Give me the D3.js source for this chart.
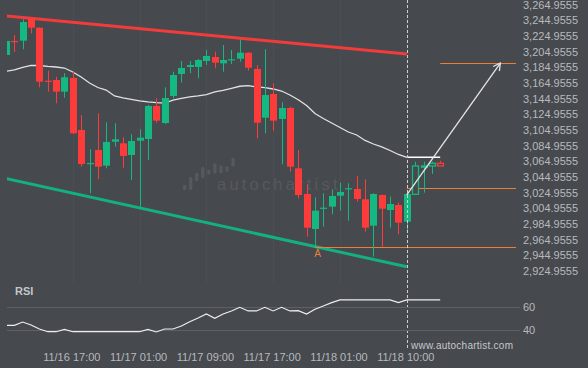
<!DOCTYPE html>
<html>
<head>
<meta charset="utf-8">
<script src="https://cdn.jsdelivr.net/npm/d3@7"></script>
<style>
    body { margin: 0; background: #46494d; }
    svg { display: block; font-family: "Liberation Sans", Arial, sans-serif; }
</style>
</head>
<body>
<svg width="588" height="368"></svg>
<script>
// hourly candles, index 0 = first visible bar; bars from 49 on are the projected (hollow) ones
const opens = [3201.1, 3219.0, 3219.3, 3248.0, 3235.9, 3168.2, 3169.1, 3154.2, 3171.7, 3105.2,
    3062.0, 3079.6, 3059.6, 3090.2, 3088.2, 3073.2, 3091.5, 3093.7, 3135.9, 3114.1,
    3148.7, 3176.8, 3185.7, 3185.7, 3193.4, 3198.5, 3190.4, 3194.7, 3196.3, 3204.0,
    3183.2, 3120.9, 3151.2, 3119.3, 3133.3, 3056.2, 3023.4, 2978.7, 3004.6, 3007.2,
    3021.2, 3029.4, 3029.8, 3016.6, 2982.9, 3022.1, 3002.9, 3009.3, 2988.0, 3023.0,
    3058.6, 3059.2, 3062.6];
const highs = [3220.2, 3226.6, 3246.7, 3248.3, 3236.5, 3181.0, 3173.3, 3177.7, 3179.7, 3124.4,
    3080.5, 3126.5, 3115.0, 3113.8, 3095.9, 3099.7, 3106.1, 3137.2, 3145.7, 3159.8,
    3179.7, 3193.4, 3193.4, 3195.9, 3207.4, 3205.3, 3213.8, 3207.4, 3221.1, 3204.6,
    3188.3, 3208.3, 3164.9, 3140.6, 3135.0, 3079.6, 3035.8, 3019.2, 3024.3, 3029.4,
    3037.8, 3037.1, 3046.8, 3042.2, 3024.3, 3022.8, 3020.0, 3012.3, 3023.9, 3064.7,
    3064.7, 3064.7, 3066.0];
const lows = [3199.8, 3204.9, 3208.3, 3228.8, 3159.8, 3154.2, 3139.3, 3146.5, 3100.1, 3058.3,
    3024.3, 3042.2, 3056.2, 3083.9, 3057.0, 3041.3, 3005.1, 3066.9, 3114.5, 3112.9,
    3145.7, 3165.6, 3177.7, 3171.3, 3188.3, 3184.1, 3179.7, 3189.6, 3192.5, 3181.0,
    3094.6, 3101.0, 3104.3, 3061.4, 3051.9, 3017.9, 2968.8, 2956.0, 2981.6, 2997.5,
    3002.1, 2989.3, 3013.6, 2975.2, 2943.3, 2956.0, 2980.3, 2971.9, 2975.2, 3023.0,
    3025.1, 3049.0, 3059.2];
const closes = [3219.0, 3218.1, 3243.2, 3235.9, 3166.9, 3167.4, 3154.2, 3172.6, 3101.0, 3061.7,
    3063.0, 3058.3, 3089.9, 3093.3, 3072.0, 3091.1, 3095.4, 3135.9, 3117.1, 3146.1,
    3175.5, 3184.4, 3188.3, 3194.7, 3199.8, 3191.2, 3194.7, 3195.6, 3204.0, 3184.8,
    3114.5, 3149.9, 3117.1, 3133.3, 3058.3, 3022.1, 2980.3, 3002.1, 3005.9, 3020.8,
    3026.0, 3030.7, 3017.0, 2980.3, 3023.4, 3004.6, 3010.6, 2986.7, 3023.4, 3059.2,
    3059.2, 3062.6, 3059.2];
const movingAvg = [3180.2, 3181.9, 3185.1, 3187.9, 3187.6, 3186.4, 3185.7, 3184.4, 3179.3, 3172.9,
    3165.3, 3159.5, 3156.3, 3148.7, 3146.1, 3144.2, 3142.3, 3141.0, 3140.1, 3139.7,
    3143.5, 3145.5, 3147.4, 3148.7, 3150.3, 3153.8, 3155.9, 3158.5, 3161.1, 3161.8,
    3160.2, 3159.3, 3157.6, 3155.0, 3149.9, 3143.9, 3136.5, 3126.3, 3119.9, 3114.1,
    3108.4, 3102.6, 3098.8, 3091.8, 3087.3, 3083.5, 3079.0, 3073.9, 3070.3, 3070.3,
    3070.3, 3070.3, 3070.3];
const rsi = [44.2, 44.2, 47.0, 44.5, 41.1, 38.8, 38.8, 40.8, 38.8, 38.8,
    38.8, 38.8, 38.8, 38.8, 38.8, 38.8, 38.8, 40.8, 38.6, 41.1,
    41.1, 43.6, 47.3, 50.4, 53.8, 50.2, 53.8, 56.4, 59.5, 56.4,
    56.4, 59.5, 56.4, 59.5, 56.4, 56.6, 53.8, 57.8, 60.6, 63.4,
    65.7, 65.7, 65.7, 65.7, 65.7, 65.7, 65.7, 63.4, 65.7, 65.7,
    65.7, 65.7, 65.7];
const firstProjected = 49;
const currentBar = 48;

const timeTickIndex = [8, 16, 24, 32, 40, 48];
const timeTickLabels = ["11/16 17:00", "11/17 01:00", "11/17 09:00", "11/17 17:00", "11/18 01:00", "11/18 10:00"];
const priceTicks = [3264.9555, 3244.9555, 3224.9555, 3204.9555, 3184.9555, 3164.9555, 3144.9555, 3124.9555, 3104.9555,
    3084.9555, 3064.9555, 3044.9555, 3024.9555, 3004.9555, 2984.9555, 2964.9555, 2944.9555, 2924.9555];
const rsiTicks = [60, 40];

// channel: [barIndex, price]
const resistance = [[0, 3251.0], [48, 3202.3]];
const support = [[0, 3043.2], [48, 2930.35]];
const pointA = [37, 2955.3];
const breakoutLevel = 3030.7;
const targetLevel = 3190.8;
const forecast = [[48, 3022.1], [59.2, 3190.8]];
const logoBars = [[27, 32], [19, 32], [15, 23], [9, 20], [12, 16.5], [5.5, 15.5], [7.5, 15.3], [8.5, 13.7], [0, 8.5]];

const GREEN = "#16b882";
const RED = "#fd3b3b";
const ORANGE = "#ef7d3a";
const TEXT = "#b6babe";

const svg = d3.select("svg");
const plotLeft = 7, plotRight = 516, priceBottom = 285;

const x = d3.scaleLinear().domain([0, 48]).range([6, 406.8]);
const y = d3.scaleLinear().domain([2924.9555, 3264.9555]).range([271, 5]);
const yr = d3.scaleLinear().domain([40, 60]).range([330.3, 306.7]);

svg.append("defs").append("clipPath").attr("id", "plot")
    .append("rect").attr("x", plotLeft).attr("y", 0)
    .attr("width", plotRight - plotLeft).attr("height", priceBottom);

// faint time gridlines
svg.append("g").selectAll("line")
        .data(timeTickIndex)
    .enter().append("line")
        .attr("x1", d => Math.round(x(d)) + 0.5)
        .attr("x2", d => Math.round(x(d)) + 0.5)
        .attr("y1", 0).attr("y2", priceBottom)
        .attr("stroke", "#4b4f54");

// watermark
const wm = svg.append("g").attr("fill", "#56595e");
wm.selectAll("rect")
        .data(logoBars)
    .enter().append("rect")
        .attr("x", (d, i) => 183 + i * 6.05)
        .attr("y", d => 158 + d[0])
        .attr("width", 3.3)
        .attr("height", d => d[1] - d[0])
        .attr("rx", 1);
wm.append("text")
    .attr("x", 217).attr("y", 190)
    .attr("font-size", 16.5)
    .attr("letter-spacing", 3.2)
    .text("autochartist");

const g = svg.append("g").attr("clip-path", "url(#plot)");

// channel lines
const line = d3.line().x(d => x(d[0])).y(d => y(d[1]));
g.append("path").attr("d", line(resistance))
    .attr("stroke", "#f23c3c").attr("stroke-width", 3).attr("fill", "none");
g.append("path").attr("d", line(support))
    .attr("stroke", "#14b07f").attr("stroke-width", 3).attr("fill", "none");

// moving average
g.append("path")
    .attr("d", d3.line().x((d, i) => x(i)).y(d => y(d))(movingAvg.slice(0, currentBar + 1)))
    .attr("stroke", "#e2e2e2").attr("stroke-width", 1.3).attr("fill", "none");
g.append("path")
    .attr("d", d3.line().x(d => x(d)).y(d => y(movingAvg[d]))([currentBar, movingAvg.length - 1]))
    .attr("stroke", "#ffffff").attr("stroke-width", 1.6).attr("fill", "none");

// horizontal levels
g.append("line")
    .attr("x1", x(pointA[0])).attr("x2", plotRight)
    .attr("y1", Math.round(y(pointA[1])) + 0.5).attr("y2", Math.round(y(pointA[1])) + 0.5)
    .attr("stroke", ORANGE);
g.append("line")
    .attr("x1", x(currentBar)).attr("x2", plotRight)
    .attr("y1", Math.round(y(breakoutLevel)) + 0.5).attr("y2", Math.round(y(breakoutLevel)) + 0.5)
    .attr("stroke", ORANGE);
g.append("line")
    .attr("x1", x(closes.length - 1)).attr("x2", plotRight)
    .attr("y1", Math.round(y(targetLevel)) + 0.5).attr("y2", Math.round(y(targetLevel)) + 0.5)
    .attr("stroke", ORANGE);

// candles
const candles = d3.range(opens.length).map(i => ({
    i: i, o: opens[i], h: highs[i], l: lows[i], c: closes[i],
    up: closes[i] >= opens[i], projected: i >= firstProjected
}));
const bodyW = 7;
const cg = g.selectAll("g.candle")
        .data(candles)
    .enter().append("g")
        .attr("class", "candle");
cg.append("line")
    .attr("x1", d => Math.round(x(d.i)) + 0.5)
    .attr("x2", d => Math.round(x(d.i)) + 0.5)
    .attr("y1", d => y(d.h))
    .attr("y2", d => y(d.l))
    .attr("stroke", d => d.up ? GREEN : RED);
cg.append("rect")
    .attr("x", d => Math.round(x(d.i)) + 0.5 - bodyW / 2 + (d.projected ? 0.5 : 0))
    .attr("y", d => Math.min(y(d.o), y(d.c)))
    .attr("width", d => d.projected ? bodyW - 1 : bodyW)
    .attr("height", d => Math.max(1.2, Math.abs(y(d.o) - y(d.c))))
    .attr("fill", d => d.projected ? "#46494d" : (d.up ? GREEN : RED))
    .attr("stroke", d => d.projected ? (d.up ? GREEN : RED) : "none")
    .attr("stroke-width", 1.3);

// "A" point label
svg.append("text")
    .attr("x", x(pointA[0]) + 2.6).attr("y", 257)
    .attr("text-anchor", "middle")
    .attr("font-size", 10)
    .attr("fill", ORANGE)
    .text("A");

// forecast arrow
const fx1 = x(forecast[0][0]), fy1 = y(forecast[0][1]);
const fx2 = x(forecast[1][0]), fy2 = y(forecast[1][1]);
const ang = Math.atan2(fy2 - fy1, fx2 - fx1);
const arrow = svg.append("g").attr("stroke", "#e6e6e6").attr("stroke-width", 1.3).attr("fill", "none");
arrow.append("line").attr("x1", fx1).attr("y1", fy1).attr("x2", fx2).attr("y2", fy2);
arrow.append("path")
    .attr("d", d3.line()([
        [fx2 - 8 * Math.cos(ang - 0.5), fy2 - 8 * Math.sin(ang - 0.5)],
        [fx2, fy2],
        [fx2 - 8 * Math.cos(ang + 0.5), fy2 - 8 * Math.sin(ang + 0.5)]
    ]));

// current bar marker
svg.append("line")
    .attr("x1", Math.round(x(currentBar)) + 0.5).attr("x2", Math.round(x(currentBar)) + 0.5)
    .attr("y1", 0).attr("y2", 350)
    .attr("stroke", "#cfcfcf")
    .attr("stroke-dasharray", "3,2");

// price axis
svg.append("g").selectAll("text")
        .data(priceTicks)
    .enter().append("text")
        .attr("x", 523)
        .attr("y", d => y(d))
        .attr("dy", "0.35em")
        .attr("font-size", 11)
        .attr("fill", TEXT)
        .text(d => d3.format(",.4f")(d));

// RSI panel
svg.append("text")
    .attr("x", 15).attr("y", 295)
    .attr("font-size", 11).attr("font-weight", "bold")
    .attr("fill", "#c2c6ca")
    .text("RSI");
svg.append("g").selectAll("line")
        .data(rsiTicks)
    .enter().append("line")
        .attr("x1", plotLeft).attr("x2", 520)
        .attr("y1", d => Math.round(yr(d)) + 0.5)
        .attr("y2", d => Math.round(yr(d)) + 0.5)
        .attr("stroke", "#5d6166");
svg.append("g").selectAll("text")
        .data(rsiTicks)
    .enter().append("text")
        .attr("x", 523)
        .attr("y", d => yr(d))
        .attr("dy", "0.35em")
        .attr("font-size", 11)
        .attr("fill", TEXT)
        .text(d => d);
svg.append("path")
    .attr("d", d3.line().x((d, i) => Math.max(plotLeft, x(i))).y(d => yr(d))(rsi))
    .attr("stroke", "#eeeeee").attr("stroke-width", 1.2).attr("fill", "none");

// time axis
svg.append("g").selectAll("text")
        .data(timeTickIndex)
    .enter().append("text")
        .attr("x", d => x(d) - 1)
        .attr("y", 357)
        .attr("dy", "0.35em")
        .attr("text-anchor", "middle")
        .attr("font-size", 11)
        .attr("fill", TEXT)
        .text((d, i) => timeTickLabels[i]);

svg.append("text")
    .attr("x", 411).attr("y", 345)
    .attr("dy", "0.35em")
    .attr("font-size", 10)
    .attr("letter-spacing", 0.25)
    .attr("fill", "#c4c8cc")
    .text("www.autochartist.com");
</script>
</body>
</html>
